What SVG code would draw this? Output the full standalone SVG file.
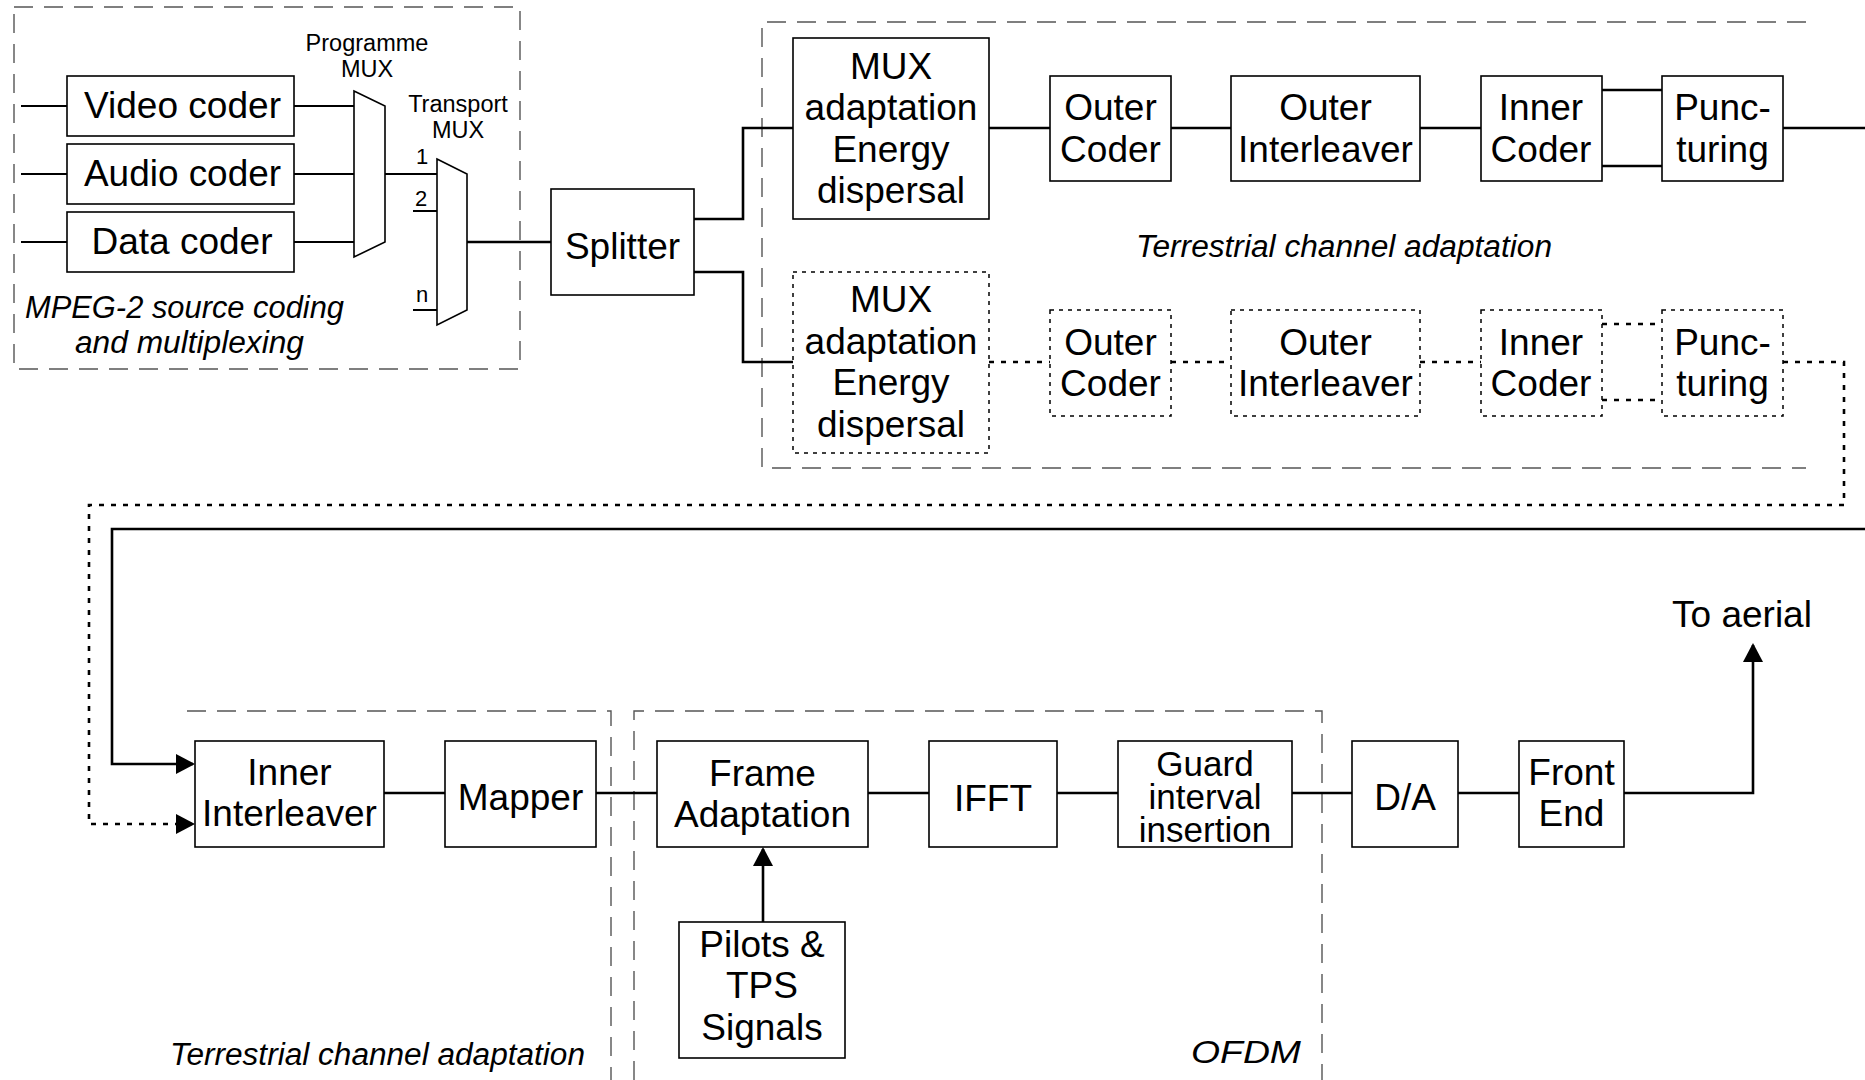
<svg xmlns="http://www.w3.org/2000/svg" width="1865" height="1080" viewBox="0 0 1865 1080">
  <defs>
    <style>
      .box { fill: #fff; stroke: #000; stroke-width: 1.6; }
      .dbox { fill: #fff; stroke: #000; stroke-width: 1.5; stroke-dasharray: 4 5; }
      .region { fill: none; stroke: #555; stroke-width: 1.4; stroke-dasharray: 19 11; }
      .wire { fill: none; stroke: #000; stroke-width: 2.6; }
      .thin { fill: none; stroke: #000; stroke-width: 1.8; }
      .dwire { fill: none; stroke: #000; stroke-width: 2.6; stroke-dasharray: 5 7; }
      .mux { fill: #fff; stroke: #000; stroke-width: 1.6; }
      text { font-family: "Liberation Sans", Arial, sans-serif; fill: #000; }
      .lbl { font-size: 37px; text-anchor: middle; }
      .guard { font-size: 35px; text-anchor: middle; }
      .small { font-size: 23.5px; text-anchor: middle; }
      .pin { font-size: 22px; text-anchor: middle; }
      .cap { font-size: 31px; font-style: italic; }
    </style>
    <marker id="arrow" markerUnits="userSpaceOnUse" markerWidth="21" markerHeight="21" refX="17" refY="10" orient="auto">
      <path d="M0,0 L19,10 L0,20 Z" fill="#000"/>
    </marker>
  </defs>

  <rect width="1865" height="1080" fill="#fff"/>

  <!-- grouping regions -->
  <g id="regions">
    <rect class="region" x="14" y="7" width="506" height="362"/>
    <path class="region" d="M1806,22 H762 V468 H1806"/>
    <path class="region" d="M187,711 H611 V1080"/>
    <path class="region" d="M634,1080 V711 H1322 V1080"/>
  </g>

  <!-- connectors -->
  <g id="connectors">
    <!-- source inputs -->
    <path class="thin" d="M21,106 H67 M21,174 H67 M21,242 H67"/>
    <!-- coders to programme MUX -->
    <path class="thin" d="M294,106 H354 M294,174 H354 M294,242 H354"/>
    <!-- programme MUX to transport MUX input 1, inputs 2 and n -->
    <path class="thin" d="M385,174 H437 M413,211 H437 M413,310 H437"/>
    <!-- transport MUX to splitter -->
    <path class="wire" d="M467,242 H551"/>
    <!-- splitter branches -->
    <path class="wire" d="M694,219 H743 V128 H793"/>
    <path class="wire" d="M694,272 H743 V362 H793"/>
    <!-- upper chain -->
    <path class="wire" d="M989,128 H1050 M1171,128 H1231 M1420,128 H1481"/>
    <path class="wire" d="M1602,90 H1662 M1602,166 H1662"/>
    <path class="wire" d="M1783,128 H1865"/>
    <!-- lower (dotted) chain -->
    <path class="dwire" d="M989,362 H1050 M1171,362 H1231 M1420,362 H1481"/>
    <path class="dwire" d="M1602,324 H1662 M1602,400 H1662"/>
    <path class="dwire" d="M1783,362 H1844 V505 H89 V824 H193" marker-end="url(#arrow)"/>
    <!-- return into inner interleaver -->
    <path class="wire" d="M1865,529 H112 V764 H193" marker-end="url(#arrow)"/>
    <!-- lower chain -->
    <path class="wire" d="M384,793 H445 M596,793 H657 M868,793 H929 M1057,793 H1118 M1292,793 H1352 M1458,793 H1519"/>
    <path class="wire" d="M1624,793 H1753 V645" marker-end="url(#arrow)"/>
    <path class="wire" d="M763,922 V849" marker-end="url(#arrow)"/>
  </g>

  <!-- source coding and multiplexing -->
  <g id="video-coder">
    <rect class="box" x="67" y="76" width="227" height="60"/>
    <text class="lbl" x="182.5" y="118" textLength="197" lengthAdjust="spacingAndGlyphs">Video coder</text>
  </g>
  <g id="audio-coder">
    <rect class="box" x="67" y="144" width="227" height="60"/>
    <text class="lbl" x="182.5" y="186" textLength="197" lengthAdjust="spacingAndGlyphs">Audio coder</text>
  </g>
  <g id="data-coder">
    <rect class="box" x="67" y="212" width="227" height="60"/>
    <text class="lbl" x="182" y="254" textLength="181" lengthAdjust="spacingAndGlyphs">Data coder</text>
  </g>
  <g id="programme-mux">
    <polygon class="mux" points="354,91 385,106 385,242 354,257"/>
    <text class="small" x="367" y="51">Programme</text>
    <text class="small" x="367" y="77">MUX</text>
  </g>
  <g id="transport-mux">
    <polygon class="mux" points="437,159 467,174 467,310 437,325"/>
    <text class="small" x="458" y="112">Transport</text>
    <text class="small" x="458" y="138">MUX</text>
    <text class="pin" x="422" y="164">1</text>
    <text class="pin" x="421" y="206">2</text>
    <text class="pin" x="422" y="302">n</text>
  </g>
  <text class="cap" x="25" y="318" textLength="319" lengthAdjust="spacingAndGlyphs">MPEG-2 source coding</text>
  <text class="cap" x="75" y="353" textLength="229" lengthAdjust="spacingAndGlyphs">and multiplexing</text>

  <g id="splitter">
    <rect class="box" x="551" y="189" width="143" height="106"/>
    <text class="lbl" x="622.5" y="259">Splitter</text>
  </g>

  <!-- terrestrial channel adaptation, upper path -->
  <g id="mux-adaptation-1">
    <rect class="box" x="793" y="38" width="196" height="181"/>
    <text class="lbl" x="891" y="79">MUX</text>
    <text class="lbl" x="891" y="120">adaptation</text>
    <text class="lbl" x="891" y="162">Energy</text>
    <text class="lbl" x="891" y="203">dispersal</text>
  </g>
  <g id="outer-coder-1">
    <rect class="box" x="1050" y="76" width="121" height="105"/>
    <text class="lbl" x="1110.5" y="120">Outer</text>
    <text class="lbl" x="1110.5" y="162">Coder</text>
  </g>
  <g id="outer-interleaver-1">
    <rect class="box" x="1231" y="76" width="189" height="105"/>
    <text class="lbl" x="1325.5" y="120">Outer</text>
    <text class="lbl" x="1325.5" y="162">Interleaver</text>
  </g>
  <g id="inner-coder-1">
    <rect class="box" x="1481" y="76" width="121" height="105"/>
    <text class="lbl" x="1541" y="120">Inner</text>
    <text class="lbl" x="1541" y="162">Coder</text>
  </g>
  <g id="puncturing-1">
    <rect class="box" x="1662" y="76" width="121" height="105"/>
    <text class="lbl" x="1722.5" y="120">Punc-</text>
    <text class="lbl" x="1722.5" y="162">turing</text>
  </g>
  <text class="cap" x="1136" y="257" textLength="416" lengthAdjust="spacingAndGlyphs">Terrestrial channel adaptation</text>

  <!-- terrestrial channel adaptation, lower (optional) path -->
  <g id="mux-adaptation-2">
    <rect class="dbox" x="793" y="272" width="196" height="181"/>
    <text class="lbl" x="891" y="312">MUX</text>
    <text class="lbl" x="891" y="354">adaptation</text>
    <text class="lbl" x="891" y="395">Energy</text>
    <text class="lbl" x="891" y="437">dispersal</text>
  </g>
  <g id="outer-coder-2">
    <rect class="dbox" x="1050" y="310" width="121" height="106"/>
    <text class="lbl" x="1110.5" y="355">Outer</text>
    <text class="lbl" x="1110.5" y="396">Coder</text>
  </g>
  <g id="outer-interleaver-2">
    <rect class="dbox" x="1231" y="310" width="189" height="106"/>
    <text class="lbl" x="1325.5" y="355">Outer</text>
    <text class="lbl" x="1325.5" y="396">Interleaver</text>
  </g>
  <g id="inner-coder-2">
    <rect class="dbox" x="1481" y="310" width="121" height="106"/>
    <text class="lbl" x="1541" y="355">Inner</text>
    <text class="lbl" x="1541" y="396">Coder</text>
  </g>
  <g id="puncturing-2">
    <rect class="dbox" x="1662" y="310" width="121" height="106"/>
    <text class="lbl" x="1722.5" y="355">Punc-</text>
    <text class="lbl" x="1722.5" y="396">turing</text>
  </g>

  <!-- lower chain -->
  <g id="inner-interleaver">
    <rect class="box" x="195" y="741" width="189" height="106"/>
    <text class="lbl" x="289.5" y="785">Inner</text>
    <text class="lbl" x="289.5" y="826">Interleaver</text>
  </g>
  <g id="mapper">
    <rect class="box" x="445" y="741" width="151" height="106"/>
    <text class="lbl" x="520.5" y="810">Mapper</text>
  </g>
  <text class="cap" x="170" y="1065" textLength="415" lengthAdjust="spacingAndGlyphs">Terrestrial channel adaptation</text>

  <g id="frame-adaptation">
    <rect class="box" x="657" y="741" width="211" height="106"/>
    <text class="lbl" x="762.5" y="786">Frame</text>
    <text class="lbl" x="762.5" y="827">Adaptation</text>
  </g>
  <g id="ifft">
    <rect class="box" x="929" y="741" width="128" height="106"/>
    <text class="lbl" x="993" y="811">IFFT</text>
  </g>
  <g id="guard-interval">
    <rect class="box" x="1118" y="741" width="174" height="106"/>
    <text class="guard" x="1205" y="776">Guard</text>
    <text class="guard" x="1205" y="809">interval</text>
    <text class="guard" x="1205" y="842">insertion</text>
  </g>
  <g id="pilots-tps">
    <rect class="box" x="679" y="922" width="166" height="136"/>
    <text class="lbl" x="762" y="957">Pilots &amp;</text>
    <text class="lbl" x="762" y="998">TPS</text>
    <text class="lbl" x="762" y="1040">Signals</text>
  </g>
  <text class="cap" x="1191" y="1063" font-size="35" textLength="110" lengthAdjust="spacingAndGlyphs">OFDM</text>

  <g id="da">
    <rect class="box" x="1352" y="741" width="106" height="106"/>
    <text class="lbl" x="1405" y="810">D/A</text>
  </g>
  <g id="front-end">
    <rect class="box" x="1519" y="741" width="105" height="106"/>
    <text class="lbl" x="1571.5" y="785">Front</text>
    <text class="lbl" x="1571.5" y="826">End</text>
  </g>
  <text class="lbl" x="1742" y="627">To aerial</text>
</svg>
